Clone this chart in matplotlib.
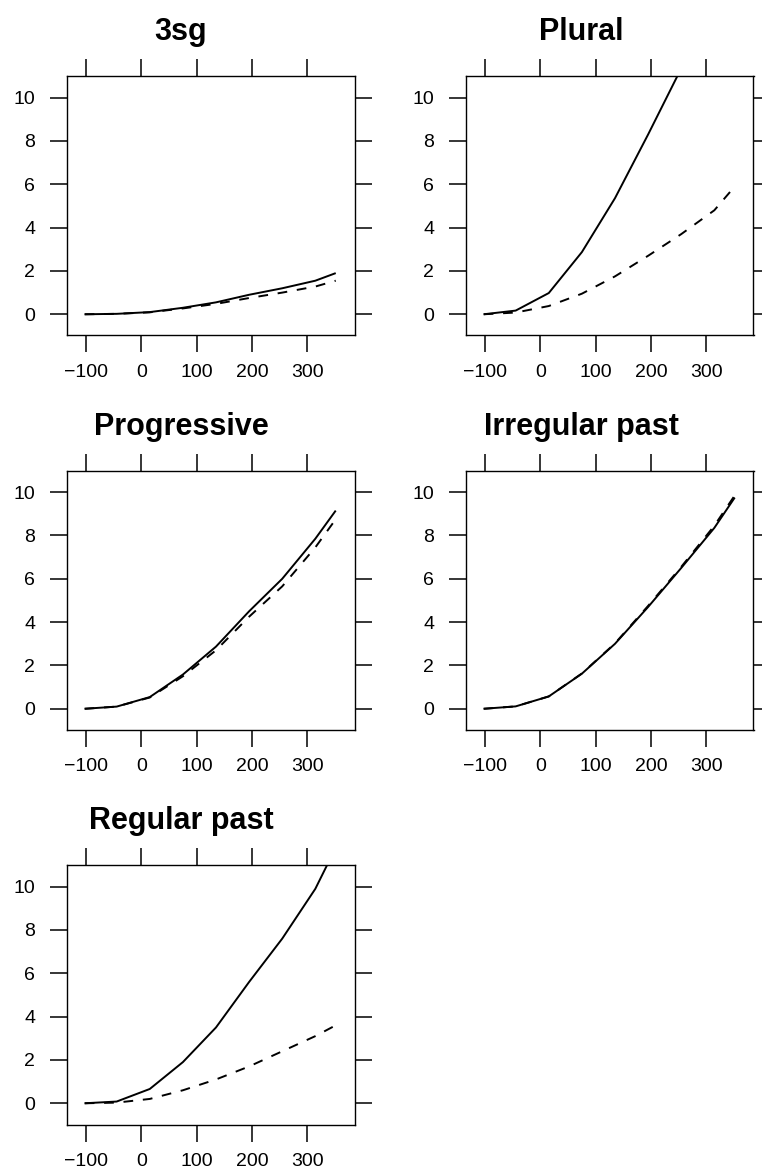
import matplotlib
matplotlib.use("Agg")
import matplotlib.pyplot as plt

plt.rcParams['font.family'] = ['Liberation Sans', 'DejaVu Sans']

# x positions of the fitted curve (same for every panel)
age = [-103, -45, 15, 75, 135, 195, 255, 315, 352]

titles = ["3sg", "Plural", "Progressive", "Irregular past", "Regular past"]

# solid = first group, dashed = second group
solid_3sg = [0, 0.02, 0.1, 0.3, 0.55, 0.9, 1.2, 1.55, 1.9]
dashed_3sg = [0, 0.02, 0.09, 0.27, 0.48, 0.75, 1.0, 1.28, 1.55]

solid_plural = [0, 0.17, 0.98, 2.87, 5.36, 8.3, 11.35, 14.5, 16.5]
dashed_plural = [0, 0.08, 0.38, 0.95, 1.75, 2.7, 3.7, 4.8, 5.9]

solid_prog = [0, 0.1, 0.54, 1.58, 2.87, 4.5, 6.0, 7.85, 9.15]
dashed_prog = [0, 0.1, 0.52, 1.5, 2.7, 4.25, 5.65, 7.45, 8.75]

solid_irr = [0, 0.11, 0.57, 1.62, 3.0, 4.7, 6.5, 8.35, 9.75]
dashed_irr = [0, 0.11, 0.57, 1.63, 3.02, 4.75, 6.55, 8.45, 9.85]

solid_reg = [0, 0.08, 0.66, 1.9, 3.5, 5.6, 7.6, 9.9, 11.8]
dashed_reg = [0, 0.03, 0.2, 0.6, 1.1, 1.7, 2.4, 3.1, 3.6]

solids = [solid_3sg, solid_plural, solid_prog, solid_irr, solid_reg]
dashes = [dashed_3sg, dashed_plural, dashed_prog, dashed_irr, dashed_reg]

xticks = [-100, 0, 100, 200, 300]
yticks = [0, 2, 4, 6, 8, 10]

W, H = 762, 1174
fig = plt.figure(figsize=(W / 100, H / 100), dpi=100)

# panel boxes in pixels: (left, top)
lefts = [67, 466]
tops = [76, 470.5, 865]
pw, ph = 287.5, 259.5
title_x = [181, 581]

for i, name in enumerate(titles):
    r, c = divmod(i, 2)
    l, t = lefts[c], tops[r]
    ax = fig.add_axes([l / W, 1 - (t + ph) / H, pw / W, ph / H])
    ax.plot(age, solids[i], color='black', lw=1.4, solid_capstyle='butt')
    ax.plot(age, dashes[i], color='black', lw=1.4, linestyle=(0, (5, 5)))
    ax.set_xlim(-135, 386)
    ax.set_ylim(-0.98, 11.0)
    ax.set_xticks(xticks)
    ax.set_yticks(yticks)
    ax.tick_params(direction='out', length=12, width=1.1, labelsize=14,
                   top=True, right=True, labeltop=False, labelright=False)
    ax.tick_params(axis='x', pad=8.5)
    ax.tick_params(axis='y', pad=11)
    for s in ax.spines.values():
        s.set_linewidth(1.0)
    fig.text(title_x[c] / W, 1 - (t - 36) / H, name, ha='center', va='baseline',
             fontsize=22, fontweight='bold')

fig.savefig("out.png", dpi=100)
